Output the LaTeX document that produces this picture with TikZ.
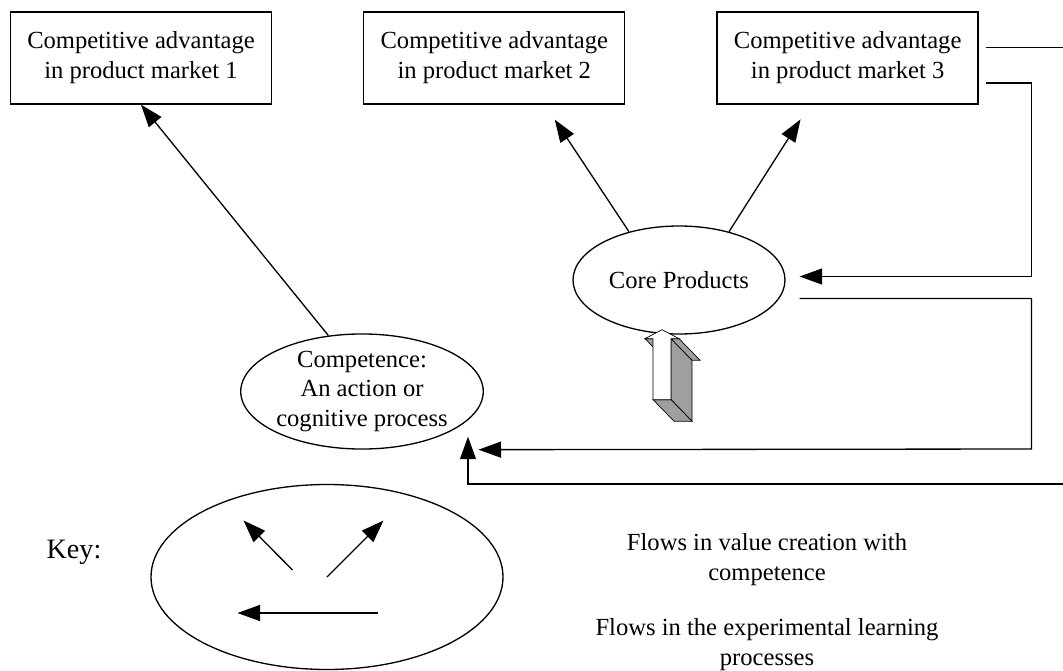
\documentclass[tikz,border=0pt]{standalone}
\usepackage{fontspec}
\setmainfont{Liberation Serif}
\usepackage{tikz}
\usetikzlibrary{positioning, arrows.meta, calc, shapes.geometric}

\begin{document}
\begin{tikzpicture}[font=\fontsize{14}{17}\selectfont, line width=0.75pt]
    \tikzstyle{market} = [rectangle, 
minimum width=5.22cm, 
minimum height=1.84cm, 
align=center, 
draw=black]

\tikzstyle{oval} = [ellipse, 
inner sep=0pt, 
align=center, 
draw=black]

\tikzstyle{face} = [draw=black, line width=0.4pt, fill=gray!75]
\tikzstyle{arrow} = [-{Triangle[length=0.45cm,width=0.32cm]}]

\useasboundingbox (0,0) rectangle (21.26,-13.42);

\node (market1) [market] at (2.82,-1.16) {Competitive advantage\\in product market 1};
\node (market2) [market, right=1.82cm of market1] {Competitive advantage\\in product market 2};
\node (market3) [market, right=1.82cm of market2] {Competitive advantage\\in product market 3};
\node (core) [oval, minimum width=4.24cm, minimum height=2.16cm] at (13.58,-5.6) {Core Products};
\node (competence) [oval, minimum width=4.81cm, minimum height=2.3cm] at (7.24,-7.83) {Competence:\\An action or\\cognitive process};
\node (key) [oval, minimum width=7.04cm, minimum height=3.7cm] at (6.54,-11.54) {};
\node (keylabel) [font=\fontsize{16}{19}\selectfont] at (1.48,-11.04) {Key:};
\node (valueflow) [align=center] at (15.34,-11.19) {Flows in value creation with\\competence};
\node (learnflow) [align=center] at (15.34,-12.9) {Flows in the experimental learning\\processes};

\coordinate (outtop) at (21.26,-0.95);
\coordinate (outbottom) at (21.26,-9.68);

% value creation
\draw [arrow] (competence.121) -- (market1.south);
\draw [arrow, shorten >=0.36cm] (core.136) -- ([xshift=1.01cm]market2.south);
\draw [arrow, shorten >=0.35cm] (core.44) -- ([xshift=-0.754cm]market3.south);

% learning loops
\draw ([xshift=0.14cm,yshift=0.21cm]market3.east) -- (outtop);
\draw [arrow] ([xshift=0.14cm,yshift=-0.5cm]market3.east) -| (20.63,-3.0) |- ([xshift=0.28cm,yshift=0.07cm]core.east);
\draw [arrow] ([xshift=0.28cm,yshift=-0.37cm]core.east) -| (20.63,-8.98) -- ([xshift=2.33cm]competence.south);
\draw [arrow] (outbottom) -| ([xshift=2.12cm,yshift=0.26cm]competence.south);

% block arrow under the core products
\begin{scope}[shift={([xshift=-0.34cm,yshift=0.1cm]core.south)}]
\filldraw [face] (-0.18,-0.18) -- (-0.34,-0.18) -- (0.08,-0.61) -- (0.24,-0.61) -- cycle;
\filldraw [face] (0.18,-0.18) -- (0.18,-1.4) -- (0.6,-1.83) -- (0.6,-0.61) -- cycle;
\filldraw [face] (0.18,-0.18) -- (0.34,-0.18) -- (0.76,-0.61) -- (0.6,-0.61) -- cycle;
\filldraw [face] (-0.18,-1.4) -- (0.18,-1.4) -- (0.6,-1.83) -- (0.24,-1.83) -- cycle;
\filldraw [draw=black, line width=0.4pt, fill=white] (0,0) -- (0.34,-0.18) -- (0.18,-0.18) -- (0.18,-1.4) -- (-0.18,-1.4) -- (-0.18,-0.18) -- (-0.34,-0.18) -- cycle;
\end{scope}

% key
\draw [arrow] ([shift={(-0.69,0.14)}]key.center) -- ([shift={(-1.67,1.13)}]key.center);
\draw [arrow] (key.center) -- ([shift={(1.13,1.13)}]key.center);
\draw [arrow] ([shift={(1.01,-0.72)}]key.center) -- ([shift={(-1.79,-0.72)}]key.center);

\end{tikzpicture}
\end{document}
